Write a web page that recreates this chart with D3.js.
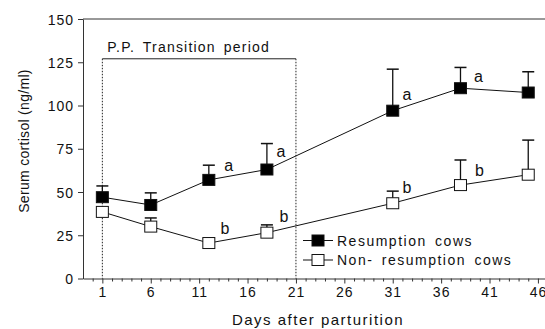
<!DOCTYPE html>
<html lang="en">
<head>
<meta charset="UTF-8">
<title>Serum cortisol after parturition</title>
<script src="https://d3js.org/d3.v7.min.js"></script>
<style>
  body { margin: 0; background: #fff; }
  svg { display: block; font-family: "Liberation Sans", Arial, sans-serif; }
  .axis text { font-size: 14px; letter-spacing: 1px; fill: #111; }
  .axis path, .axis line { stroke: #333; }
</style>
</head>
<body>
<div id="chart"></div>
<script>
// data
const days = [1, 6, 12, 18, 31, 38, 45];
const resumption = [47, 42.5, 57, 63, 97, 110, 107.5];
const resumptionErr = [53.5, 49.5, 65.5, 78, 121, 122, 119.5];
const nonResumption = [38.5, 30, 20.5, 26.5, 43.5, 54, 60];
const nonResumptionErr = [40, 35, 23, 31, 50.5, 68.5, 80];
const xTicks = [1, 6, 11, 16, 21, 26, 31, 36, 41, 46];
const yTicks = [0, 25, 50, 75, 100, 125, 150];
const transition = [1, 21];
// significance letters: [day, value, letter]
const resLetters = [[13.6, 62, "a"], [19, 70, "a"], [32, 103, "a"], [39.4, 113.7, "a"]];
const nonLetters = [[13.2, 26, "b"], [19.3, 32.6, "b"], [32, 49.4, "b"], [39.5, 59.1, "b"]];

const W = 545, H = 329;
const svg = d3.select("#chart").append("svg")
    .attr("width", W).attr("height", H);

const x = d3.scaleLinear().domain([-1, 47]).range([83, 547.6]);
const y = d3.scaleLinear().domain([0, 150]).range([278.5, 19]);

// y axis
const yAxis = svg.append("g").attr("class", "axis")
    .attr("transform", `translate(${x(-1)},0)`)
    .call(d3.axisLeft(y).tickValues(yTicks).tickSize(5).tickPadding(4).tickSizeOuter(0));
yAxis.selectAll("text").attr("dy", "0.36em");

// x axis: minor ticks every day, labelled major ticks
const minor = d3.range(0, 48).filter(d => !xTicks.includes(d));
svg.append("g").attr("class", "axis")
    .attr("transform", `translate(0,${y(0)})`)
    .call(d3.axisBottom(x).tickValues(minor).tickSize(3).tickFormat("").tickSizeOuter(0));
svg.append("g").attr("class", "axis")
    .attr("transform", `translate(0,${y(0)})`)
    .call(d3.axisBottom(x).tickValues(xTicks).tickSize(5).tickPadding(4).tickSizeOuter(0))
    .call(g => g.select(".domain").remove());

// top frame line
svg.append("line")
    .attr("x1", x(-1)).attr("x2", x(47))
    .attr("y1", y(150)).attr("y2", y(150))
    .attr("stroke", "#333");

// transition period bracket
const brY = y(127);
svg.append("line")
    .attr("x1", x(transition[0])).attr("x2", x(transition[1]))
    .attr("y1", brY).attr("y2", brY)
    .attr("stroke", "#222");
transition.forEach(d => {
  svg.append("line")
      .attr("x1", x(d)).attr("x2", x(d))
      .attr("y1", brY).attr("y2", y(0))
      .attr("stroke", "#222").attr("stroke-dasharray", "1.5,1.5");
});
svg.append("text")
    .attr("x", x(transition[0]) + 5).attr("y", brY - 7)
    .attr("font-size", 14).attr("letter-spacing", "1.2px").attr("word-spacing", "3px")
    .attr("fill", "#111")
    .text("P.P. Transition period");

const sq = 12;

function drawSeries(vals, errs, fill) {
  const pts = days.map((d, i) => ({ day: d, v: vals[i], e: errs[i] }));
  // error bars
  svg.append("g").selectAll("line.err")
    .data(pts).enter().append("line")
    .attr("x1", d => x(d.day)).attr("x2", d => x(d.day))
    .attr("y1", d => y(d.v)).attr("y2", d => y(d.e))
    .attr("stroke", "#111").attr("stroke-width", 1.3);
  svg.append("g").selectAll("line.cap")
    .data(pts).enter().append("line")
    .attr("x1", d => x(d.day) - 6).attr("x2", d => x(d.day) + 6)
    .attr("y1", d => y(d.e)).attr("y2", d => y(d.e))
    .attr("stroke", "#111").attr("stroke-width", 1.5);
  // connecting line
  svg.append("path")
    .datum(pts)
    .attr("fill", "none").attr("stroke", "#111").attr("stroke-width", 1)
    .attr("d", d3.line().x(d => x(d.day)).y(d => y(d.v)));
  // squares
  svg.append("g").selectAll("rect")
    .data(pts).enter().append("rect")
    .attr("x", d => x(d.day) - sq / 2).attr("y", d => y(d.v) - sq / 2 + 0.5)
    .attr("width", sq).attr("height", sq - 1)
    .attr("fill", fill).attr("stroke", "#111").attr("stroke-width", 1);
}

drawSeries(nonResumption, nonResumptionErr, "#fff");
drawSeries(resumption, resumptionErr, "#000");

// letters
function drawLetters(list) {
  svg.append("g").selectAll("text")
    .data(list).enter().append("text")
    .attr("x", d => x(d[0])).attr("y", d => y(d[1]))
    .attr("font-size", 16).attr("fill", "#111")
    .text(d => d[2]);
}
drawLetters(resLetters);
drawLetters(nonLetters);

// legend
const legend = [["Resumption cows", "#000"], ["Non- resumption cows", "#fff"]];
const lg = svg.append("g").attr("transform", "translate(303,240.5)");
legend.forEach((d, i) => {
  const g = lg.append("g").attr("transform", `translate(0,${i * 19.5})`);
  g.append("line").attr("x1", 0).attr("x2", 30).attr("y1", 0).attr("y2", 0)
      .attr("stroke", "#111");
  g.append("rect").attr("x", 9).attr("y", -5.5).attr("width", 12).attr("height", 11)
      .attr("fill", d[1]).attr("stroke", "#111");
  g.append("text").attr("x", 34).attr("y", 5)
      .attr("font-size", 14).attr("letter-spacing", "1.5px").attr("word-spacing", "3px")
      .attr("fill", "#111").text(d[0]);
});

// axis titles
svg.append("text")
    .attr("transform", `translate(29,${141}) rotate(-90)`)
    .attr("text-anchor", "middle")
    .attr("font-size", 14).attr("letter-spacing", "0.3px").attr("fill", "#111")
    .text("Serum cortisol (ng/ml)");
svg.append("text")
    .attr("x", 318).attr("y", 325)
    .attr("text-anchor", "middle")
    .attr("font-size", 15).attr("letter-spacing", "1.5px").attr("fill", "#111")
    .text("Days after parturition");
</script>
</body>
</html>
